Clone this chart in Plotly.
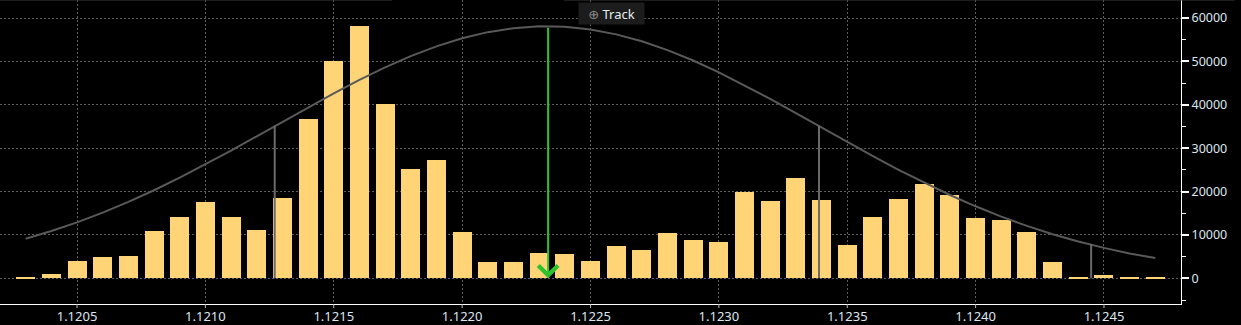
import plotly.graph_objects as go

# ---------------- data ----------------
prices = [round(1.1203 + 0.0001 * i, 4) for i in range(45)]
volumes = [150, 1000, 4000, 4900, 5100, 10900, 14100, 17600, 14100, 11100,
           18500, 36700, 50000, 58100, 40100, 25200, 27200, 10700, 3800, 3800,
           5800, 5600, 4000, 7400, 6500, 10400, 8800, 8400, 19900, 17800,
           23100, 18000, 7700, 14100, 18300, 21700, 19200, 13900, 13400, 10700,
           3800, 250, 700, 300, 200]
curve = [9130, 10900, 12900, 15140, 17620, 20300, 23190, 26240, 29450, 32740,
         36070, 39400, 42630, 45730, 48610, 51210, 53470, 55330, 56740, 57660,
         58080, 57970, 57350, 56230, 54640, 52610, 50210, 47490, 44520, 41360,
         38070, 34740, 31410, 28150, 25000, 22010, 19200, 16600, 14220, 12080,
         10160, 8480, 7010, 5740, 4660]
sd_x = [1.12127, 1.12339, 1.12445]
sd_y = [35200, 35200, 7900]
mean_x = 1.122335
mean_y = 58100

x_ticks = [1.1205, 1.1210, 1.1215, 1.1220, 1.1225, 1.1230, 1.1235, 1.1240, 1.1245]
x_labels = ["1.1205", "1.1210", "1.1215", "1.1220", "1.1225", "1.1230", "1.1235", "1.1240", "1.1245"]
y_ticks = [0, 10000, 20000, 30000, 40000, 50000, 60000]
y_labels = ["0", "10000", "20000", "30000", "40000", "50000", "60000"]

# ---------------- figure ----------------
LABEL = "#dde6f0"
GRID = "#5c5c5c"
FONT = "Noto Sans"
PLOT_H = 325 - 21

fig = go.Figure()

fig.add_trace(go.Bar(
    x=prices, y=volumes, width=0.000074,
    marker=dict(color="#ffd477", line=dict(width=0)),
    hoverinfo="x+y",
))

fig.add_trace(go.Scatter(
    x=prices, y=curve, mode="lines",
    line=dict(color="#595959", width=2),
    hoverinfo="skip",
))

vx, vy = [], []
for xv, yv in zip(sd_x, sd_y):
    vx += [xv, xv, None]
    vy += [0, yv, None]
fig.add_trace(go.Scatter(
    x=vx, y=vy, mode="lines",
    line=dict(color="#6a6a6a", width=2),
    hoverinfo="skip",
))

fig.add_annotation(
    x=mean_x, y=0, ax=mean_x, ay=mean_y,
    xref="x", yref="y", axref="x", ayref="y",
    text="", showarrow=True,
    arrowhead=4, arrowsize=1.9, arrowwidth=2, arrowcolor="#2fc22f",
    standoff=0,
)

fig.add_annotation(
    xref="paper", yref="paper", x=(580 + 643) / 2 / 1181, y=1,
    xanchor="center", yanchor="top", yshift=-2,
    text="<span style='color:#8a8a8a;font-family:DejaVu Sans'>⊕</span> Track",
    showarrow=False,
    bgcolor="#1c1c1c",
    width=63, height=19,
    font=dict(family=FONT, size=13, color="#e6ecf2"),
)

# top border segments
for x0, x1 in [(0, 392 / 1181), (564 / 1181, 1235 / 1181)]:
    fig.add_shape(type="line", xref="paper", yref="paper",
                  x0=x0, x1=x1, y0=1, y1=1,
                  line=dict(color="#3a3a3a", width=1))

# small x tick marks below the axis line
for tv in x_ticks:
    fig.add_shape(type="line", xref="x", yref="paper",
                  x0=tv, x1=tv, y0=0, y1=-4 / PLOT_H,
                  line=dict(color="#bbbbbb", width=1))

fig.update_layout(
    width=1241, height=325,
    margin=dict(l=0, r=60, t=0, b=21, autoexpand=False),
    paper_bgcolor="black", plot_bgcolor="black",
    showlegend=False,
    bargap=0,
    font=dict(family=FONT, size=12.5, color=LABEL),
    xaxis=dict(
        range=[1.1202, 1.1248],
        tickvals=x_ticks, ticktext=x_labels,
        showline=True, linecolor="white", linewidth=1,
        ticks="",
        showgrid=True, gridcolor=GRID, gridwidth=1, griddash="2px,2px",
        zeroline=False, automargin=False,
        tickfont=dict(family=FONT, size=13, color=LABEL),
    ),
    yaxis=dict(
        side="right",
        range=[-5920, 64150],
        tickvals=y_ticks, ticktext=y_labels,
        showline=True, linecolor="white", linewidth=1,
        ticks="outside", ticklen=7, tickwidth=2, tickcolor="white",
        minor=dict(dtick=5000, tick0=-5000, ticks="outside", ticklen=4,
                   tickwidth=1, tickcolor="white", showgrid=False),
        showgrid=True, gridcolor=GRID, gridwidth=1, griddash="2px,2px",
        zeroline=False, automargin=False,
        tickfont=dict(family=FONT, size=12.5, color=LABEL),
    ),
)

fig.write_html("out.html")
